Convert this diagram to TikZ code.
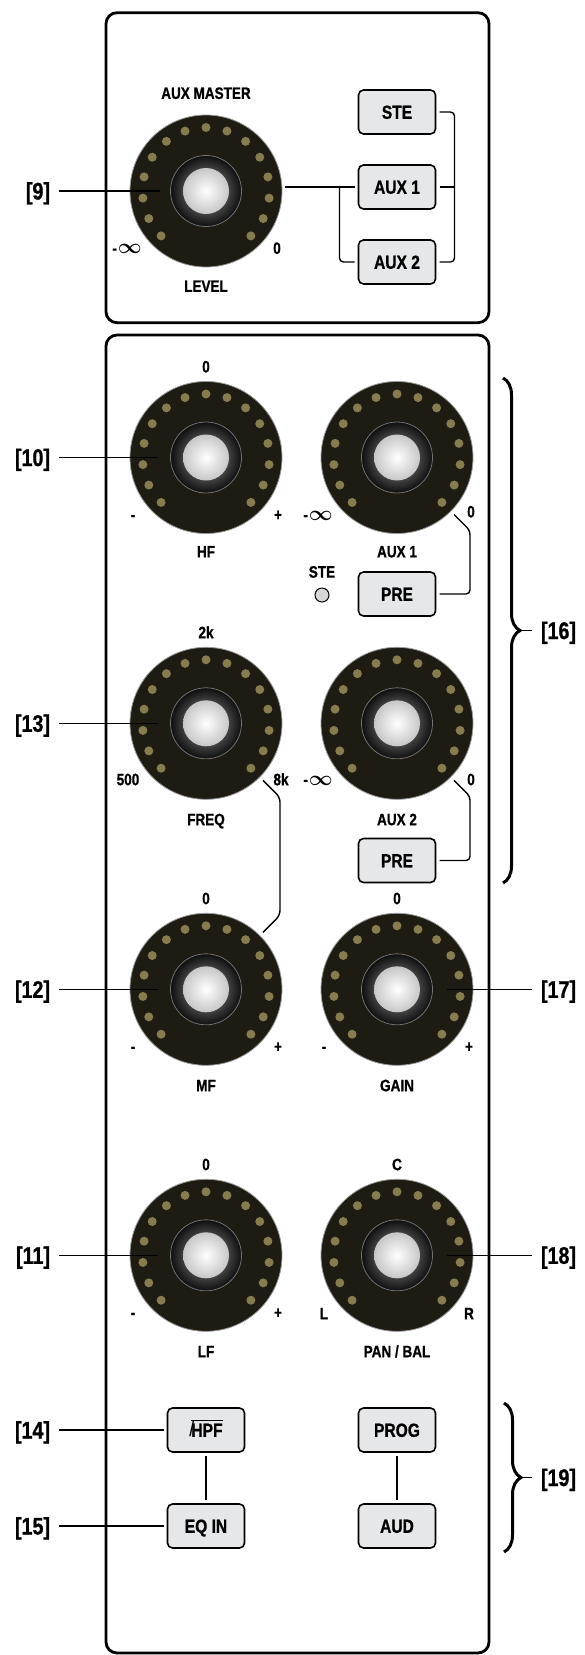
\documentclass[tikz,border=0pt]{standalone}
\usepackage{fontspec}
\setmainfont{Liberation Sans}[FakeStretch=0.82,BoldFeatures={FakeBold=0.9}]
\usepackage{bm}
\usepackage{tikz}
\usetikzlibrary{positioning,calc}
\usetikzlibrary{decorations.pathreplacing}
\definecolor{knobfill}{RGB}{29,27,18}
\definecolor{dotfill}{RGB}{135,123,80}
\definecolor{btnfill}{RGB}{230,231,232}
\definecolor{ledfill}{RGB}{214,215,216}
\newcommand{\ninf}{-\kern1pt{\fontsize{22}{22}\selectfont$\bm\infty$}}
\newcommand{\hpfsym}{{\mdseries\fontsize{22}{22}\selectfont/}\kern-3pt\rlap{\rule[15.5pt]{31.5pt}{1.3pt}}HPF}
\tikzset{
knob/.style={circle,draw=black!40,line width=0.8pt,fill=knobfill,minimum size=152pt,inner sep=0pt,
 path picture={
  \foreach \k in {0,...,14}
   \fill [dotfill] (path picture bounding box.center) ++({225-\k*270/14}:63.5pt) circle (4.5pt);
  \shade [inner color=black!40,outer color=black!95] (path picture bounding box.center) circle (36pt);
  \draw [black!55,line width=0.8pt] (path picture bounding box.center) circle (35.5pt);
  \shade [inner color=white,outer color=black!22] (path picture bounding box.center) circle (23pt);
 }},
lbl/.style={inner sep=0pt,text height=11.8pt,text depth=0pt,font=\bfseries\fontsize{16.5}{18}\selectfont},
btn/.style={draw,line width=1.6pt,fill=btnfill,rounded corners=5pt,minimum width=77pt,minimum height=44pt,
 inner sep=0pt,outer sep=4pt,text height=13.6pt,text depth=0pt,font=\bfseries\fontsize{19}{20}\selectfont},
tag/.style={inner sep=0pt,outer sep=9pt,text height=17pt,text depth=0pt,font=\bfseries\fontsize{24}{26}\selectfont},
led/.style={circle,draw,line width=1pt,fill=ledfill,minimum size=14pt,inner sep=0pt},
conn/.style={line width=1.4pt},
panel/.style={line width=2.8pt,rounded corners=11pt},
brc/.style={decorate,decoration={brace,amplitude=17pt},line width=3pt}
}

\begin{document}
\begin{tikzpicture}[x=1pt,y=-1pt]
\useasboundingbox (0,0) rectangle (585,1655);
\draw [panel] (106,12.7) rectangle (489,322.7);
\draw [panel] (106,335) rectangle (489,1653);

\node (amk) [knob] at (206,191) {};
\node (amkt) [lbl] at ($(amk)+(0,-98)$) {AUX MASTER};
\node (amkl) [lbl] at ($(amk)+(-79,57)$) {\ninf};
\node (amkr) [lbl] at ($(amk)+(71,57)$) {0};
\node (amkb) [lbl] at ($(amk)+(0,95)$) {LEVEL};
\node (ste) [btn] at (397,112) {STE};
\node (aux1) [btn] at (397,187) {AUX 1};
\node (aux2) [btn] at (397,262) {AUX 2};
\coordinate (amke) at ([xshift=3pt]amk.east);
\coordinate (jn) at ([xshift=-15pt]aux1.west);
\draw [conn] (amke |- aux1) -- (aux1);
\draw [conn,rounded corners=4pt] (jn) |- (aux2);
\draw [conn,rounded corners=4pt] (ste.east) -- ++(15,0) |- (aux2);
\draw [conn] (aux1.east) -- ++(15,0);
\node (t9) [tag,anchor=east] at (59,191) {[9]};
\draw [conn] (t9) -- ([xshift=30pt]amk.west);

\node (hf) [knob] at (206,457.5) {};
\node (hft) [lbl] at ($(hf)+(0,-91)$) {0};
\node (hfl) [lbl] at ($(hf)+(-73,57)$) {-};
\node (hfr) [lbl] at ($(hf)+(72,57)$) {+};
\node (hfb) [lbl] at ($(hf)+(0,94)$) {HF};
\node (a1k) [knob] at (397,457.5) {};
\node (a1kl) [lbl] at ($(a1k)+(-79,57)$) {\ninf};
\node (a1kr) [lbl] at ($(a1k)+(74,54)$) {0};
\node (a1kb) [lbl] at ($(a1k)+(0,94)$) {AUX 1};
\node (stet) [lbl] at (322,571.7) {STE};
\node (stel) [led] at (322,595) {};
\node (pre1) [btn] at (397,594) {PRE};
\draw [conn,rounded corners=4pt] ([shift={(3,3)}]a1k.south east) -- ++(16,16) |- (pre1);

\node (freq) [knob] at (206,723.3) {};
\node (freqt) [lbl] at ($(freq)+(0,-91)$) {2k};
\node (freql) [lbl] at ($(freq)+(-78,56)$) {500};
\node (freqr) [lbl] at ($(freq)+(75,56)$) {8k};
\node (freqb) [lbl] at ($(freq)+(0,96)$) {FREQ};
\node (a2k) [knob] at (397,723.3) {};
\node (a2kl) [lbl] at ($(a2k)+(-79,56)$) {\ninf};
\node (a2kr) [lbl] at ($(a2k)+(74,56)$) {0};
\node (a2kb) [lbl] at ($(a2k)+(0,96)$) {AUX 2};
\node (pre2) [btn] at (397,860.5) {PRE};
\draw [conn,rounded corners=4pt] ([shift={(3,3)}]a2k.south east) -- ++(16,16) |- (pre2);

\node (mf) [knob] at (206,989.3) {};
\node (mft) [lbl] at ($(mf)+(0,-91)$) {0};
\node (mfl) [lbl] at ($(mf)+(-73,57)$) {-};
\node (mfr) [lbl] at ($(mf)+(72,57)$) {+};
\node (mfb) [lbl] at ($(mf)+(0,96)$) {MF};
\node (gain) [knob] at (397,989.3) {};
\node (gaint) [lbl] at ($(gain)+(0,-91)$) {0};
\node (gainl) [lbl] at ($(gain)+(-73,57)$) {-};
\node (gainr) [lbl] at ($(gain)+(72,57)$) {+};
\node (gainb) [lbl] at ($(gain)+(0,96)$) {GAIN};
\draw [conn,rounded corners=5pt] ([shift={(3,3)}]freq.south east) -- ++(17,17) -- ($(mf.north east)+(20,-20)$) -- ([shift={(3,-3)}]mf.north east);

\node (lf) [knob] at (206,1255.3) {};
\node (lft) [lbl] at ($(lf)+(0,-91)$) {0};
\node (lfl) [lbl] at ($(lf)+(-73,57)$) {-};
\node (lfr) [lbl] at ($(lf)+(72,57)$) {+};
\node (lfb) [lbl] at ($(lf)+(0,96)$) {LF};
\node (pan) [knob] at (397,1255.3) {};
\node (pant) [lbl] at ($(pan)+(0,-91)$) {C};
\node (panl) [lbl] at ($(pan)+(-73,58)$) {L};
\node (panr) [lbl] at ($(pan)+(72,58)$) {R};
\node (panb) [lbl] at ($(pan)+(0,96)$) {PAN / BAL};

\node (hpf) [btn] at (206,1430) {\hpfsym};
\node (eqin) [btn] at (206,1526) {EQ IN};
\node (prog) [btn] at (397,1430) {PROG};
\node (aud) [btn] at (397,1526) {AUD};
\draw [conn] (hpf) -- (eqin);
\draw [conn] (prog) -- (aud);

\node (t10) [tag,anchor=east] at (59,457.5) {[10]};
\node (t13) [tag,anchor=east] at (59,723.3) {[13]};
\node (t12) [tag,anchor=east] at (59,989.3) {[12]};
\node (t11) [tag,anchor=east] at (59,1255.3) {[11]};
\node (t14) [tag,anchor=east] at (59,1430) {[14]};
\node (t15) [tag,anchor=east] at (59,1526) {[15]};
\draw [conn] (t10) -- ([xshift=28pt]hf.west);
\draw [conn] (t13) -- ([xshift=28pt]freq.west);
\draw [conn] (t12) -- ([xshift=28pt]mf.west);
\draw [conn] (t11) -- ([xshift=28pt]lf.west);
\draw [conn] (t14) -- (hpf);
\draw [conn] (t15) -- (eqin);

\node (t17) [tag,anchor=west] at (532,989.3) {[17]};
\node (t18) [tag,anchor=west] at (532,1255.3) {[18]};
\draw [conn] ([xshift=-26pt]gain.east) -- (t17);
\draw [conn] ([xshift=-26pt]pan.east) -- (t18);

\draw [brc] (503,378) -- (503,883);
\coordinate (b16) at (520,630.5);
\node (t16) [tag,anchor=west] at (532,630.5) {[16]};
\draw [conn] (b16) -- (t16);
\draw [brc] (504,1403) -- (504,1552);
\coordinate (b19) at (521,1477.5);
\node (t19) [tag,anchor=west] at (532,1477.5) {[19]};
\draw [conn] (b19) -- (t19);
\end{tikzpicture}
\end{document}
